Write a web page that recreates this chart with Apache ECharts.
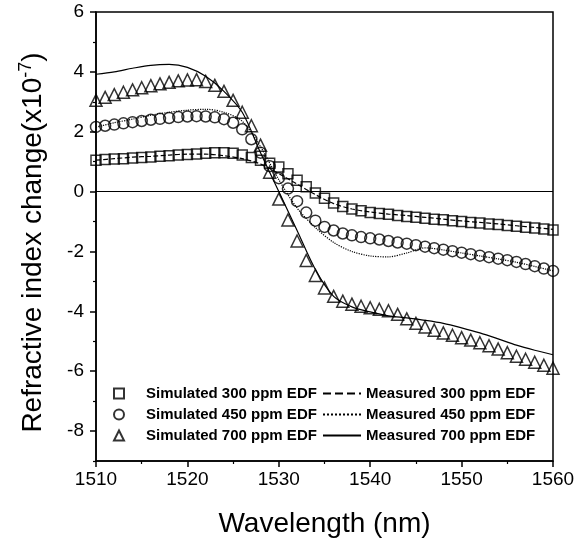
<!DOCTYPE html>
<html>
<head>
<meta charset="utf-8">
<script src="https://cdn.jsdelivr.net/npm/echarts@6/dist/echarts.min.js"></script>
<style>
  html, body { margin: 0; padding: 0; background: #fff; }
  #chart { width: 587px; height: 543px; }
</style>
</head>
<body>
<div id="chart"></div>
<script>
// wavelength (nm) of the simulated points, 1 nm step
var simWavelength = [1510, 1511, 1512, 1513, 1514, 1515, 1516, 1517, 1518, 1519,
  1520, 1521, 1522, 1523, 1524, 1525, 1526, 1527, 1528, 1529,
  1530, 1531, 1532, 1533, 1534, 1535, 1536, 1537, 1538, 1539,
  1540, 1541, 1542, 1543, 1544, 1545, 1546, 1547, 1548, 1549,
  1550, 1551, 1552, 1553, 1554, 1555, 1556, 1557, 1558, 1559, 1560];

// simulated refractive index change (x10^-7)
var sim300 = [1.05, 1.07, 1.09, 1.10, 1.12, 1.14, 1.16, 1.18, 1.20, 1.22,
  1.24, 1.26, 1.28, 1.30, 1.30, 1.28, 1.22, 1.14, 1.05, 0.95,
  0.82, 0.60, 0.38, 0.16, -0.05, -0.22, -0.38, -0.50, -0.58, -0.64,
  -0.70, -0.73, -0.76, -0.80, -0.83, -0.86, -0.89, -0.92, -0.94, -0.97,
  -1.00, -1.03, -1.05, -1.08, -1.10, -1.13, -1.16, -1.19, -1.22, -1.25, -1.28];
var sim450 = [2.16, 2.20, 2.24, 2.28, 2.32, 2.36, 2.40, 2.43, 2.46, 2.49,
  2.51, 2.52, 2.51, 2.48, 2.42, 2.30, 2.08, 1.75, 1.30, 0.85,
  0.45, 0.10, -0.32, -0.70, -0.97, -1.18, -1.30, -1.40, -1.46, -1.52,
  -1.56, -1.60, -1.65, -1.70, -1.74, -1.79, -1.84, -1.89, -1.94, -1.99,
  -2.04, -2.09, -2.14, -2.19, -2.24, -2.29, -2.35, -2.42, -2.49, -2.57, -2.65];
var sim700 = [3.05, 3.15, 3.24, 3.32, 3.40, 3.47, 3.54, 3.60, 3.65, 3.70,
  3.73, 3.74, 3.68, 3.55, 3.35, 3.05, 2.65, 2.20, 1.55, 0.65,
  -0.25, -0.95, -1.65, -2.30, -2.80, -3.22, -3.50, -3.66, -3.76, -3.83,
  -3.88, -3.93, -3.98, -4.10, -4.25, -4.40, -4.52, -4.63, -4.72, -4.80,
  -4.88, -4.96, -5.05, -5.15, -5.26, -5.38, -5.50, -5.60, -5.70, -5.80, -5.90];

// measured curves, 2 nm step
var measWavelength = [1510, 1512, 1514, 1516, 1518, 1520, 1522, 1524, 1526, 1528,
  1530, 1532, 1534, 1536, 1538, 1540, 1542, 1544, 1546, 1548,
  1550, 1552, 1554, 1556, 1558, 1560];
var meas300 = [1.05, 1.10, 1.15, 1.18, 1.22, 1.25, 1.25, 1.20, 1.10, 0.92,
  0.60, 0.25, -0.10, -0.40, -0.58, -0.68, -0.75, -0.80, -0.86, -0.92,
  -0.98, -1.03, -1.08, -1.14, -1.20, -1.26];
var meas450 = [2.15, 2.30, 2.42, 2.55, 2.65, 2.72, 2.75, 2.65, 2.35, 1.50,
  0.40, -0.55, -1.20, -1.70, -2.00, -2.15, -2.18, -2.05, -1.88, -1.95,
  -2.05, -2.15, -2.25, -2.36, -2.50, -2.65];
var meas700 = [3.92, 4.00, 4.12, 4.22, 4.25, 4.15, 3.85, 3.35, 2.65, 1.30,
  0.00, -1.30, -2.60, -3.50, -3.85, -4.02, -4.15, -4.22, -4.30, -4.40,
  -4.55, -4.72, -4.92, -5.13, -5.30, -5.45];

// tick labels
var xMajorTicks = [1510, 1520, 1530, 1540, 1550, 1560];
var yMajorTicks = [-8, -6, -4, -2, 0, 2, 4, 6];
var yMinorTicks = [-9, -7, -5, -3, -1, 1, 3, 5];

var simNames = ['Simulated 300 ppm EDF', 'Simulated 450 ppm EDF', 'Simulated 700 ppm EDF'];
var simIcons = ['rect', 'circle', 'triangle'];
var measNames = ['Measured 300 ppm EDF', 'Measured 450 ppm EDF', 'Measured 700 ppm EDF'];

function pairs(xs, ys) {
  return xs.map(function (x, i) { return [x, ys[i]]; });
}

var FONT = '"Liberation Sans", Arial, sans-serif';

function simSeries(name, data, symbol, size) {
  return {
    name: name,
    type: 'scatter',
    data: pairs(simWavelength, data),
    symbol: symbol,
    symbolSize: size,
    itemStyle: { color: 'rgba(255,255,255,0)', borderColor: '#000', borderWidth: 1.5 },
    z: 3
  };
}

function measSeries(name, data, dash) {
  return {
    name: name,
    type: 'line',
    data: pairs(measWavelength, data),
    showSymbol: false,
    symbol: 'none',
    smooth: 0.3,
    lineStyle: { color: '#000', width: 1.2, type: dash },
    itemStyle: { color: '#000' },
    z: 2
  };
}

var myChart = echarts.init(document.getElementById('chart'));

var legendText = { fontFamily: FONT, fontSize: 15, fontWeight: 'bold', color: '#000' };

myChart.setOption({
  animation: false,
  backgroundColor: '#fff',
  grid: {
    left: 96, right: 34, top: 12, bottom: 74,
    show: true, borderColor: '#000', borderWidth: 1.5, backgroundColor: 'transparent'
  },
  legend: [{
    data: simNames.map(function (n, i) { return { name: n, icon: simIcons[i] }; }),
    orient: 'vertical',
    left: 113, top: 386, padding: 0,
    itemWidth: 10, itemHeight: 10, itemGap: 6,
    textStyle: Object.assign({ padding: [0, 0, 0, 17] }, legendText),
    selectedMode: false
  }, {
    data: measNames,
    orient: 'vertical',
    left: 322, top: 386, padding: 0,
    itemWidth: 38, itemHeight: 10, itemGap: 6,
    itemStyle: { opacity: 0 },
    textStyle: legendText,
    selectedMode: false
  }],
  xAxis: {
    type: 'value',
    min: 1510, max: 1560, interval: 10,
    name: 'Wavelength (nm)',
    nameLocation: 'middle',
    nameGap: 49,
    nameTextStyle: { fontFamily: FONT, fontSize: 28, color: '#000' },
    axisLine: { onZero: false, lineStyle: { color: '#000', width: 1.5 } },
    axisTick: { show: true, length: 6, lineStyle: { color: '#000', width: 1.5 }, customValues: xMajorTicks },
    minorTick: { show: true, splitNumber: 2, length: 3, lineStyle: { color: '#000', width: 1.2 } },
    axisLabel: {
      fontFamily: FONT, fontSize: 19, color: '#000', margin: 9, customValues: xMajorTicks,
      formatter: function (v) { return String(v); }
    },
    splitLine: { show: false }
  },
  yAxis: [{
    type: 'value',
    min: -9, max: 6, interval: 1,
    name: '{a|Refractive index change(x10}{s|-7}{a|)}',
    nameLocation: 'middle',
    nameGap: 47,
    nameRotate: 90,
    nameTextStyle: {
      fontFamily: FONT, fontSize: 28, color: '#000',
      padding: [0, 12, 0, 0],
      rich: {
        a: { fontFamily: FONT, fontSize: 28, color: '#000' },
        s: { fontFamily: FONT, fontSize: 18, color: '#000', padding: [0, 0, 14, 0] }
      }
    },
    axisLine: { onZero: false, lineStyle: { color: '#000', width: 1.5 } },
    axisTick: { show: true, length: 6, lineStyle: { color: '#000', width: 1.5 }, customValues: yMajorTicks },
    axisLabel: { fontFamily: FONT, fontSize: 19, color: '#000', margin: 12, customValues: yMajorTicks },
    splitLine: { show: false }
  }, {
    // only the minor ticks at odd values
    type: 'value',
    position: 'left',
    min: -9, max: 6, interval: 1,
    axisLine: { show: false },
    axisTick: { show: true, length: 3, lineStyle: { color: '#000', width: 1.2 }, customValues: yMinorTicks },
    axisLabel: { show: false },
    splitLine: { show: false }
  }],
  series: [
    simSeries(simNames[0], sim300, 'rect', 10),
    simSeries(simNames[1], sim450, 'circle', 11),
    simSeries(simNames[2], sim700, 'triangle', 12),
    measSeries(measNames[0], meas300, 'dashed'),
    measSeries(measNames[1], meas450, 'dotted'),
    Object.assign(measSeries(measNames[2], meas700, 'solid'), {
      markLine: {
        silent: true,
        symbol: 'none',
        label: { show: false },
        lineStyle: { color: '#000', width: 1.2, type: 'solid' },
        data: [{ yAxis: 0 }]
      }
    })
  ]
});
</script>
</body>
</html>
